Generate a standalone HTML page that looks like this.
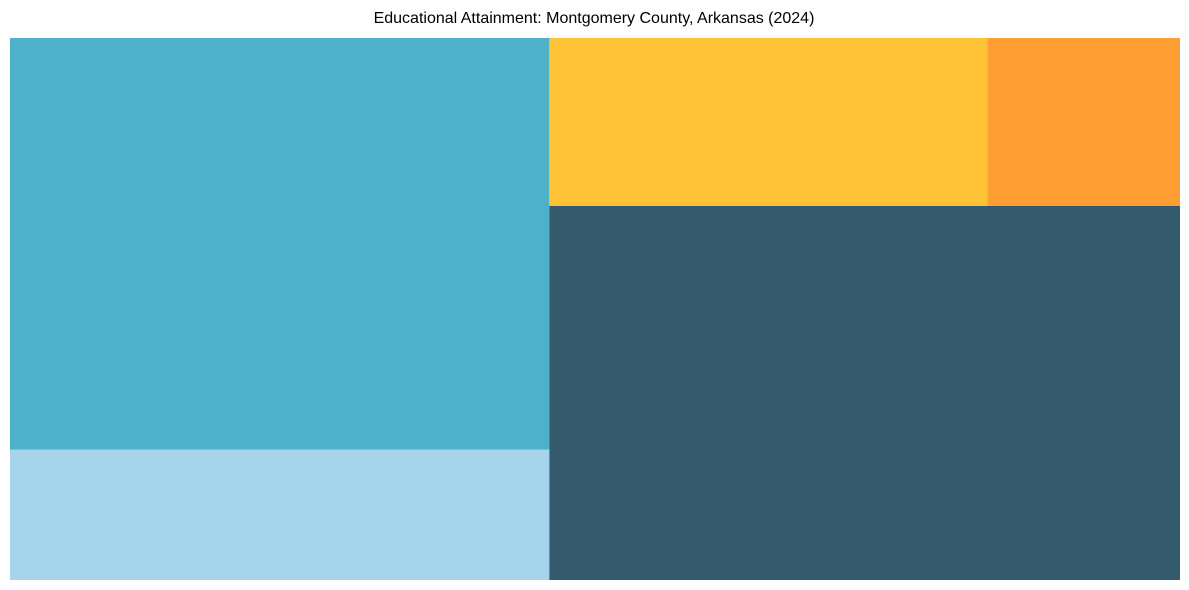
<!DOCTYPE html>
<html><head><meta charset="utf-8"><style>
html,body{margin:0;padding:0;background:#fff;width:1189px;height:590px;overflow:hidden}
svg{display:block}
</style></head><body>
<svg id="chart" width="1189" height="590">
<text x="594" y="23" text-anchor="middle" font-family="Liberation Sans, Arial, sans-serif" font-size="16" fill="#000">Educational Attainment: Montgomery County, Arkansas (2024)</text>
<g id="cells"></g>
</svg>
<script>
const categories = ["Some College or Associate's", "Less than High School", "Bachelor's Degree", "Graduate or Professional", "High School Graduate"];
const values = [35.0, 11.1, 11.6, 5.1, 37.2];
const colors = ["#4eb0c9", "#a5d4eb", "#fec336", "#fe9e33", "#355a6d"];

const X0 = 10, Y0 = 38, W = 1170, H = 542;
const g = document.getElementById('cells');
const total = values.reduce((a, b) => a + b, 0);
function rect(i, x, y, w, h) {
  const r = document.createElementNS('http://www.w3.org/2000/svg', 'rect');
  r.setAttribute('x', x); r.setAttribute('y', y);
  r.setAttribute('width', w); r.setAttribute('height', h);
  r.setAttribute('fill', colors[i]);
  
  
  const t = document.createElementNS('http://www.w3.org/2000/svg', 'title');
  t.textContent = categories[i] + ': ' + values[i] + '%';
  r.appendChild(t);
  g.appendChild(r);
}
const leftSum = values[0] + values[1];
const lw = W * leftSum / total;
const h0 = H * values[0] / leftSum;
rect(0, X0, Y0, lw, h0);
rect(1, X0, Y0 + h0, lw, H - h0);
const rw = W - lw;
const rightSum = values[2] + values[3] + values[4];
const topH = H * (values[2] + values[3]) / rightSum;
const w2 = rw * values[2] / (values[2] + values[3]);
rect(2, X0 + lw, Y0, w2, topH);
rect(3, X0 + lw + w2, Y0, rw - w2, topH);
rect(4, X0 + lw, Y0 + topH, rw, H - topH);
</script>
</body></html>
